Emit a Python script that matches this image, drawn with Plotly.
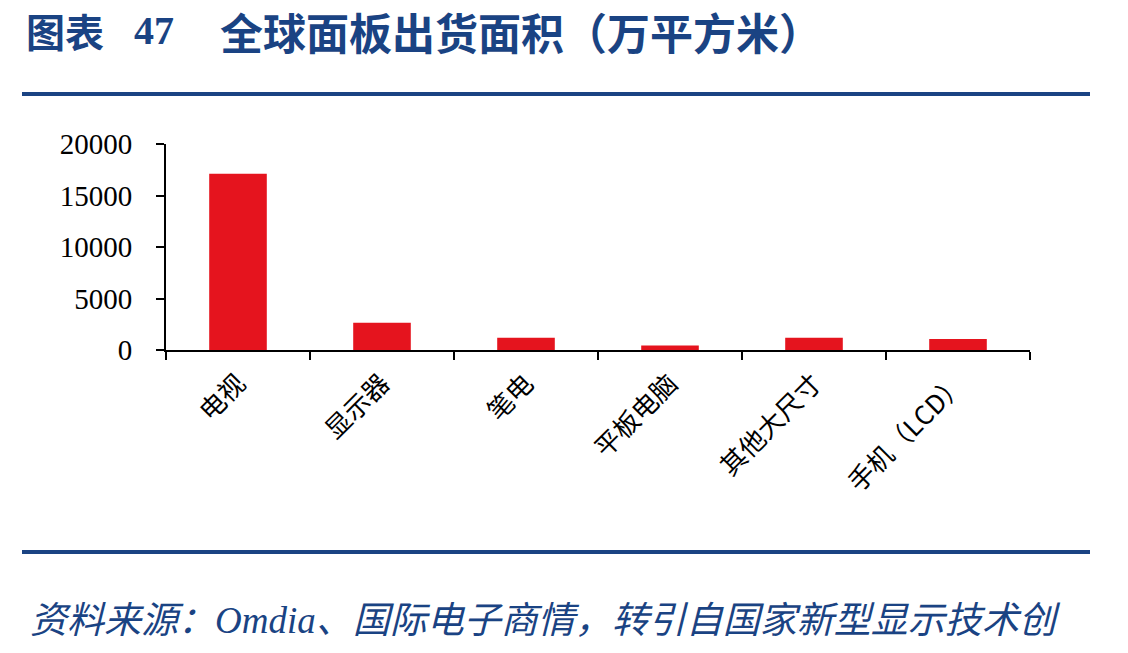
import plotly.graph_objects as go

categories = ["电视", "显示器", "笔电", "平板电脑", "其他大尺寸", "手机（LCD）"]
values = [17100, 2650, 1200, 430, 1200, 1080]
y_ticks = [0, 5000, 10000, 15000, 20000]

W, H = 1128, 653
BLUE = "#1A4383"
RED = "#E5141E"
SERIF = "Liberation Serif, Noto Sans CJK SC"

fig = go.Figure()
fig.add_trace(go.Bar(x=categories, y=values, marker=dict(color=RED, line=dict(width=0))))

fig.update_layout(
    width=W, height=H, autosize=False,
    margin=dict(l=0, r=0, t=0, b=0, pad=0),
    paper_bgcolor="white", plot_bgcolor="white",
    bargap=0.6,
    showlegend=False,
    font=dict(family=SERIF, color="black"),
    xaxis=dict(
        domain=[166 / W, 1030 / W],
        type="category",
        automargin=False,
        showline=True, linecolor="black", linewidth=2,
        ticks="outside", tickson="boundaries", ticklen=8, tickwidth=1.5, tickcolor="black",
        tickangle=-45,
        ticklabelstandoff=6,
        tickfont=dict(size=26, family="Noto Sans CJK SC, Liberation Serif", color="black"),
        showgrid=False, zeroline=False,
    ),
    yaxis=dict(
        domain=[(H - 350) / H, (H - 144) / H],
        range=[0, 20000],
        automargin=False,
        tickvals=y_ticks,
        ticktext=[str(v) for v in y_ticks],
        showline=True, linecolor="black", linewidth=2,
        ticks="outside", ticklen=8, tickwidth=1.5, tickcolor="black",
        ticklabelstandoff=18,
        tickfont=dict(size=29, family="Liberation Serif", color="black"),
        showgrid=False, zeroline=False,
    ),
)

# Title
fig.add_annotation(
    text="<b>图表</b>", xref="paper", yref="paper",
    x=24 / W, y=1 - 30 / H, xanchor="left", yanchor="middle", showarrow=False,
    font=dict(size=39, color=BLUE, family="Noto Sans CJK SC"),
)
fig.add_annotation(
    text="<b>47</b>", xref="paper", yref="paper",
    x=132 / W, y=1 - 30 / H, xanchor="left", yanchor="middle", showarrow=False,
    font=dict(size=40, color=BLUE, family="Liberation Serif"),
)
fig.add_annotation(
    text="<b>全球面板出货面积（万平方米）</b>", xref="paper", yref="paper",
    x=218 / W, y=1 - 31 / H, xanchor="left", yanchor="middle", showarrow=False,
    font=dict(size=43, color=BLUE, family="Noto Sans CJK SC"),
)

# Rules
for ypx in (94, 552):
    fig.add_shape(
        type="line", xref="paper", yref="paper",
        x0=22 / W, x1=1090 / W, y0=1 - ypx / H, y1=1 - ypx / H,
        line=dict(color=BLUE, width=4),
    )

# Source
fig.add_annotation(
    text="<i>资料来源：Omdia、国际电子商情，转引自国家新型显示技术创</i>",
    xref="paper", yref="paper",
    x=28 / W, y=1 - 620 / H, xanchor="left", yanchor="middle", showarrow=False,
    font=dict(size=37, color=BLUE, family="Liberation Serif, Noto Sans CJK SC"),
)

fig.write_html("out.html", config={"responsive": False})
